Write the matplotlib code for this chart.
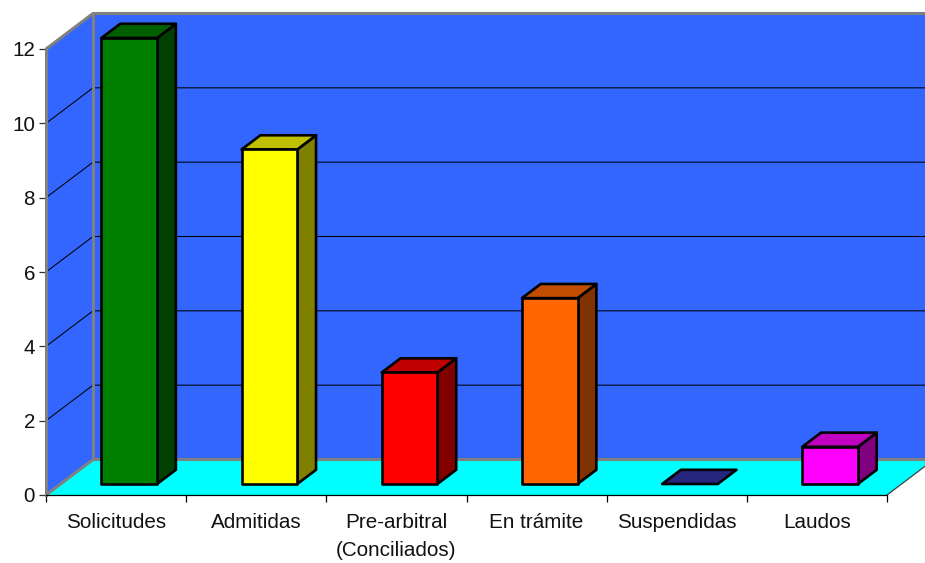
import matplotlib
matplotlib.use("Agg")
import matplotlib.pyplot as plt
from matplotlib.patches import Polygon

plt.rcParams['font.family'] = ['Liberation Sans', 'DejaVu Sans']

categories = ['Solicitudes', 'Admitidas', 'Pre-arbitral\n(Conciliados)', 'En trámite', 'Suspendidas', 'Laudos']
values = [12, 9, 3, 5, 0, 1]
front_colors = ['#008000', '#FFFF00', '#FF0000', '#FF6600', '#333399', '#FF00FF']
top_colors = ['#006000', '#C0C000', '#C00000', '#C04D00', '#26267F', '#C000C0']
side_colors = ['#004000', '#808000', '#800000', '#803300', '#1A1A4D', '#800080']
y_ticks = [0, 2, 4, 6, 8, 10, 12]

W, H = 925, 563
X0, X1, Y0, Y12 = 46, 887, 495, 49

fig = plt.figure(figsize=(W / 100, H / 100), dpi=100, facecolor='white')
ax = fig.add_axes([X0 / W, 1 - Y0 / H, (X1 - X0) / W, (Y0 - Y12) / H])
ax.set_xlim(0, len(categories))
ax.set_ylim(0, 12)
ax.patch.set_visible(False)

# Oblique depth offset of the chart box, in data units
DX = 47 / ((X1 - X0) / len(categories))
DY = 35.5 / ((Y0 - Y12) / 12)


def proj(x, v, d=0.0):
    return (x + d * DX, v + d * DY)


def face(points, color, z, edge='none', lw=0.0):
    ax.add_patch(Polygon(points, closed=True, facecolor=color, edgecolor=edge, linewidth=lw,
                         joinstyle='round', clip_on=False, zorder=z))


n = len(categories)
top = y_ticks[-1]
BLUE = '#3366FF'
GRAY = '#808080'

# Back wall, side wall and floor
face([proj(0, 0, 1), proj(n, 0, 1), proj(n, top, 1), proj(0, top, 1)], BLUE, 1)
face([proj(0, 0), proj(0, 0, 1), proj(0, top, 1), proj(0, top)], BLUE, 1)
face([proj(0, 0), proj(n, 0), proj(n, 0, 1), proj(0, 0, 1)], '#00FFFF', 1.5)

# Gridlines across both walls
for t in y_ticks[1:-1]:
    xs, ys = zip(proj(0, t), proj(0, t, 1), proj(n, t, 1))
    ax.plot(xs, ys, color='black', lw=0.75, clip_on=False, zorder=2)

# Wall outlines
for seg in ([proj(0, 0), proj(0, 0, 1), proj(n, 0, 1)],
            [proj(0, top), proj(0, top, 1), proj(n, top, 1)],
            [proj(0, 0, 1), proj(0, top, 1)]):
    xs, ys = zip(*seg)
    ax.plot(xs, ys, color=GRAY, lw=2.2, clip_on=False, zorder=3, solid_capstyle='butt')
xs, ys = zip(proj(n, 0), proj(n, 0, 1))
ax.plot(xs, ys, color='#404040', lw=0.9, clip_on=False, zorder=3)

# Bars as oblique boxes
BAR_W = 0.397
BAR_CENTER = 0.49
D_FRONT, D_BACK = 0.31, 0.71
for i, v in enumerate(values):
    left = i + BAR_CENTER - BAR_W / 2
    right = left + BAR_W
    z = 5
    kw = dict(edge='black', lw=1.9)
    if v > 0:
        face([proj(left, 0, D_FRONT), proj(right, 0, D_FRONT), proj(right, v, D_FRONT), proj(left, v, D_FRONT)],
             front_colors[i], z + 0.2, **kw)
        face([proj(right, 0, D_FRONT), proj(right, 0, D_BACK), proj(right, v, D_BACK), proj(right, v, D_FRONT)],
             side_colors[i], z, **kw)
    face([proj(left, v, D_FRONT), proj(right, v, D_FRONT), proj(right, v, D_BACK), proj(left, v, D_BACK)],
         top_colors[i], z + 0.1, **kw)

# Axes: ticks between categories, labels centred on them
for s in ('top', 'right'):
    ax.spines[s].set_visible(False)
ax.spines['left'].set_color(GRAY)
ax.spines['left'].set_linewidth(2.2)
ax.spines['left'].set_zorder(4)
ax.spines['bottom'].set_color('black')
ax.spines['bottom'].set_linewidth(0.9)
ax.spines['bottom'].set_zorder(4)

ax.set_yticks(y_ticks)
ax.tick_params(axis='y', length=5, width=0.9, color='#303030', labelsize=14.9, pad=3, labelcolor='#111111')
ax.set_xticks(range(n + 1))
ax.set_xticklabels([])
ax.tick_params(axis='x', which='major', length=5, width=0.9, color='black')
ax.set_xticks([i + 0.5 for i in range(n)], minor=True)
ax.set_xticklabels(categories, minor=True, fontsize=14.9, color='#111111', linespacing=1.6)
ax.tick_params(axis='x', which='minor', length=0, pad=13)

fig.savefig('out.png', dpi=100, facecolor='white')
